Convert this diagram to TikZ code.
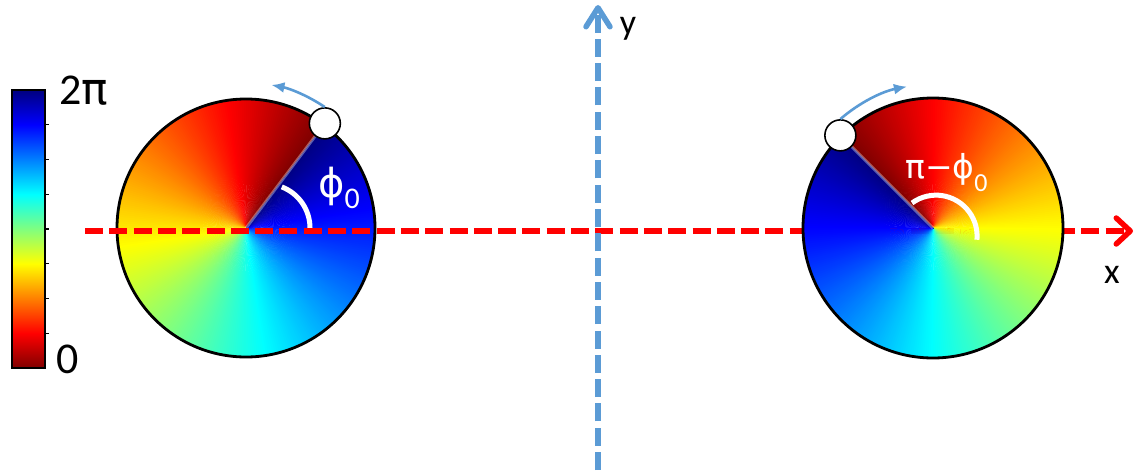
\documentclass[tikz,border=0pt]{standalone}
\usepackage{fontspec}
\setmainfont{Carlito}
\newfontfamily\greekfont{DejaVu Sans}
\usepackage{xcolor}
\usepackage{tikz}
\usetikzlibrary{arrows.meta}

\definecolor{axisred}{RGB}{255,0,0}
\definecolor{axisblue}{RGB}{91,155,213}
\pgfdeclareverticalshading{jetbar}{100bp}{rgb(0bp)=(0.5,0,0); rgb(25bp)=(0.5,0,0); rgb(31.25bp)=(1,0,0); rgb(43.75bp)=(1,1,0); rgb(56.25bp)=(0,1,1); rgb(68.75bp)=(0,0,1); rgb(75bp)=(0,0,0.5); rgb(100bp)=(0,0,0.5)}
% reversed jet colour for a phase in [0,1]
\newcommand{\setjet}[1]{%
  \pgfmathsetmacro\jr{min(1,max(0,1.5-abs(4*(1-#1)-3)))}%
  \pgfmathsetmacro\jg{min(1,max(0,1.5-abs(4*(1-#1)-2)))}%
  \pgfmathsetmacro\jb{min(1,max(0,1.5-abs(4*(1-#1)-1)))}%
  \definecolor{jet}{rgb}{\jr,\jg,\jb}}

\begin{document}
\begin{tikzpicture}[x=1pt, y=1pt,
  ball/.style={circle, draw, fill=white, line width=1.6pt, minimum size=31pt, inner sep=0pt},
  rim/.style={draw=black, line width=2.8pt},
  cut/.style={draw=white, opacity=0.35, line width=3pt},
  spin/.style={draw=axisblue, line width=2.6pt, -{Latex[length=13pt,width=11pt]}},
  anglearc/.style={draw=white, line width=5pt},
  xaxis/.style={draw=axisred, line width=5.5pt, dash pattern=on 18pt off 6.3pt, -{Straight Barb[length=14pt,width=26pt,round]}},
  yaxis/.style={draw=axisblue, line width=5.5pt, dash pattern=on 18pt off 6.3pt, -{Straight Barb[length=19pt,width=24pt,round]}},
  lbl/.style={font=\fontsize{36}{40}\selectfont, inner sep=0pt},
  barlbl/.style={font=\fontsize{44}{48}\selectfont, inner sep=0pt},
  phase/.style={text=white, inner sep=0pt, anchor=base west}
]
  \useasboundingbox (0,0) rectangle (1135,475);
  \coordinate (L) at (246,247);
  \coordinate (R) at (933,247);
  \coordinate (xs) at (85,244);
  \coordinate (xe) at (1133,244);
  \coordinate (ys) at (598,5);
  \coordinate (ye) at (598,470);

  % colour bar
  \shade[shading=jetbar] (12,107) rectangle (45,385);
  \draw[line width=1.3pt] (12,107) rectangle (45,385);
  \foreach \k in {1,...,7}
    \draw[line width=1.2pt] (45,{107+34.75*\k}) -- ++(3.5,0);
  \node[barlbl] (cbtop) at (84,384) {2{\greekfont π}};
  \node[barlbl] (cbbot) at (67.5,116) {0};

  % left disk, phase grows anticlockwise from the cut
  \foreach \i in {0,...,359}{
    \setjet{\i/360}
    \pgfmathsetmacro\da{min(1.6,360-\i)}
    \fill[jet] (L) -- ++(53+\i:129) arc[start angle=53+\i, delta angle=\da, radius=129pt] -- cycle;
  }
  \draw[cut] (L) -- ++(53:127);
  \draw[rim] (L) circle[radius=129pt];
  \draw[anglearc] ([xshift=64pt]L) arc[start angle=0, end angle=69, radius=44pt];

  \draw[xaxis] (xs) -- (xe);

  % right disk, phase grows clockwise from the cut
  \foreach \i in {0,...,359}{
    \setjet{\i/360}
    \pgfmathsetmacro\da{min(1.6,360-\i)}
    \fill[jet] (R) -- ++(135-\i:130) arc[start angle=135-\i, delta angle=-\da, radius=130pt] -- cycle;
  }
  \draw[cut] (R) -- ++(135:128);
  \draw[rim] (R) circle[radius=130pt];
  \draw[anglearc] ([shift={(-21,25)}]R) arc[start angle=126, end angle=-5, radius=41pt];

  \draw[yaxis] (ys) -- (ye);
  \node[lbl, anchor=base] (ylab) at (628,440) {y};
  \node[lbl, anchor=base] (xlab) at (1112,192) {x};

  \path (L) ++(53:131) node[ball] (lb) {};
  \path (R) ++(135:131) node[ball] (rb) {};
  \draw[spin] (lb.north) arc[start angle=56, end angle=79, radius=145pt];
  \draw[spin] (rb.north) arc[start angle=131, end angle=101, radius=143pt];

  \node[phase, font=\fontsize{40}{44}\selectfont] (phl) at (318,278)
    {{\greekfont ϕ}\raisebox{-11pt}{\fontsize{30}{32}\selectfont 0}};
  \node[phase, font=\fontsize{33}{36}\selectfont] (phr) at (905,297)
    {{\greekfont π−ϕ}\raisebox{-13.5pt}{\fontsize{26}{28}\selectfont 0}};
\end{tikzpicture}
\end{document}
